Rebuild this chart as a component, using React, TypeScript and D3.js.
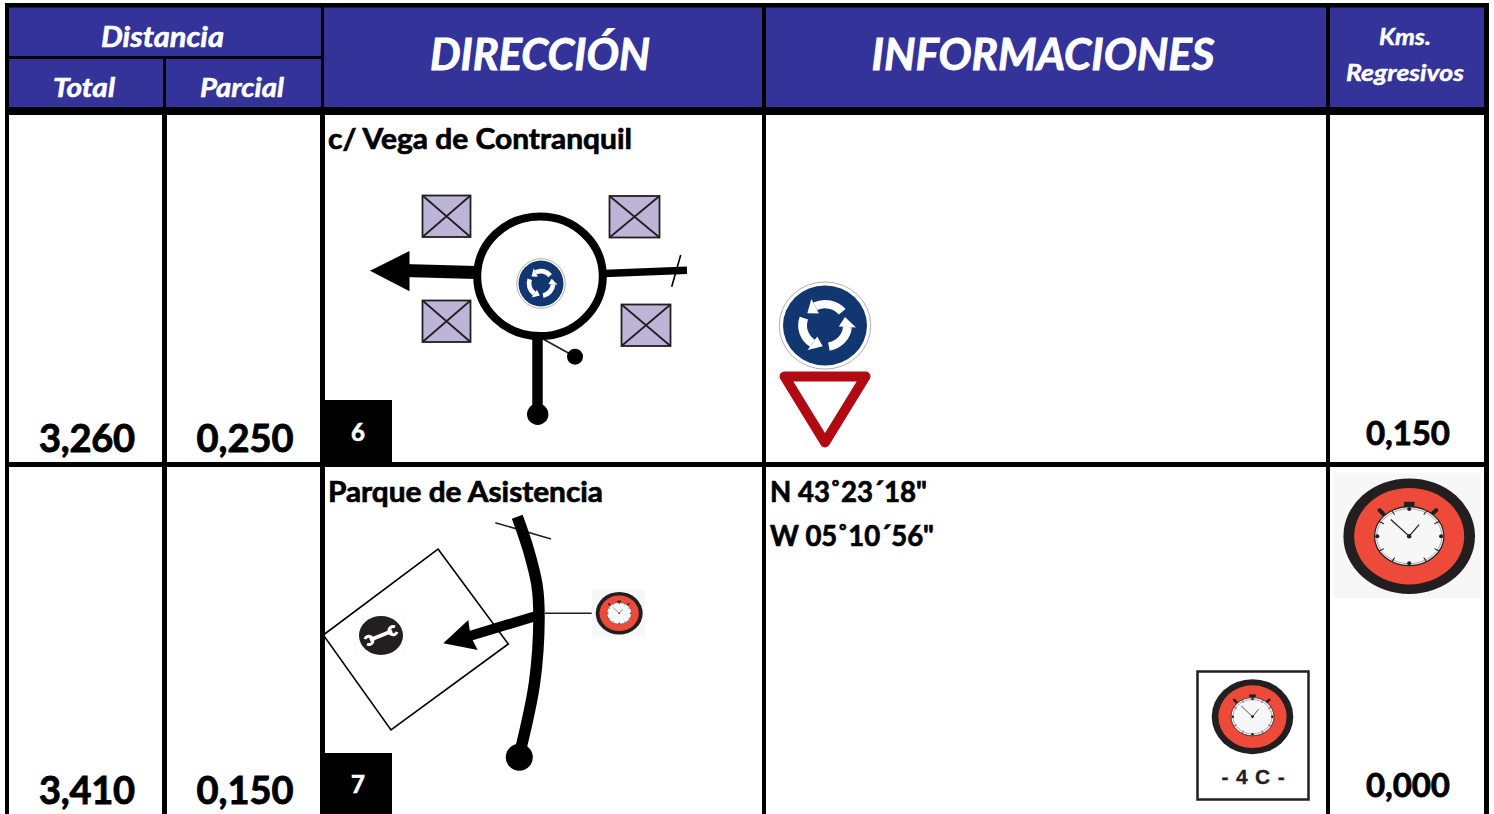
import * as d3 from 'd3';

const totals = ['3,260', '3,410'];
const parciales = ['0,250', '0,150'];
const regresivos = ['0,150', '0,000'];
const titles = ['c/ Vega de Contranquil', 'Parque de Asistencia'];
const titleWidths = [304, 275];
const tags = ['6', '7'];
const infoLines = ['N 43˚23´18"', 'W 05˚10´56"'];
const infoWidths = [157, 164];
const controlLabel = '- 4 C -';

const FONT = 'Lato, Carlito, sans-serif';
const BLUE = '#333399';
const INK = '#231f20';

// cell edges of the sheet
const headCols: [number, number][] = [[9, 163], [166, 321], [324, 762], [766, 1326], [1330, 1484]];
const bodyCols: [number, number][] = [[9, 162], [167, 320], [325, 762], [766, 1326], [1330, 1484]];
const bodyRows: [number, number][] = [[115, 462], [467, 814]];

const numX = d3.scaleOrdinal<string, number>().domain(['total', 'parcial', 'regresivo']).range([87, 245, 1408]);
const numY = d3.scaleOrdinal<number, number>().domain([0, 1]).range([452, 804]);
const regY = d3.scaleOrdinal<number, number>().domain([0, 1]).range([445, 797]);

const toRad = (d: number) => (d * Math.PI) / 180;
const linePath = d3.line<[number, number]>();
const smoothPath = d3.line<[number, number]>().curve(d3.curveCatmullRom.alpha(0.5));

function CrossBox({ x0, y0, x1, y1 }: { x0: number; y0: number; x1: number; y1: number }) {
  const d = `M${x0},${y0}L${x1},${y1}M${x1},${y0}L${x0},${y1}`;
  return (
    <g stroke={INK} strokeWidth={1.8}>
      <rect x={x0} y={y0} width={x1 - x0} height={y1 - y0} fill="#bcb5d8" />
      <path d={d} fill="none" />
    </g>
  );
}

function RoundaboutSign({ cx, cy, rx, ry, ring }: { cx: number; cy: number; rx: number; ry: number; ring: number }) {
  const arc = d3.arc()({ innerRadius: 0.43, outerRadius: 0.64, startAngle: toRad(-26), endAngle: toRad(50) }) as string;
  const polar = (deg: number, r: number) => [Math.sin(toRad(deg)) * r, -Math.cos(toRad(deg)) * r] as [number, number];
  const head = linePath([polar(-26, 0.33), polar(-26, 0.74), polar(-54, 0.52)]) + 'Z';
  return (
    <g transform={`translate(${cx},${cy})`}>
      <ellipse rx={rx * ring} ry={ry * ring} fill="#fff" stroke="#9a9a9a" strokeWidth={0.8} />
      <g transform={`scale(${rx},${ry})`}>
        <ellipse rx={1} ry={1} fill="#12366f" />
        {[0, 120, 240].map((a) => (
          <g key={a} transform={`rotate(${a})`} fill="#fff">
            <path d={arc} />
            <path d={head} />
          </g>
        ))}
      </g>
    </g>
  );
}

function Stopwatch({ cx, cy, rx, ry }: { cx: number; cy: number; rx: number; ry: number }) {
  const small = rx < 30;
  const ticks = d3.range(12);
  const angle = d3.scaleLinear().domain([0, 12]).range([0, 2 * Math.PI]);
  const dialX = rx * 0.527;
  const dialY = ry * 0.51;
  const sw = rx / 65;
  return (
    <g transform={`translate(${cx},${cy})`}>
      <ellipse rx={rx} ry={ry} fill={INK} />
      <ellipse rx={rx * 0.836} ry={ry * 0.836} fill="#ee4a3a" />
      <rect x={-rx * 0.08} y={-ry * 0.595} width={rx * 0.16} height={ry * 0.085} fill={INK} />
      <path
        d={`M${-rx * 0.45},${-ry * 0.45}L${-rx * 0.39},${-ry * 0.38}M${rx * 0.41},${-ry * 0.45}L${rx * 0.34},${-ry * 0.38}`}
        stroke={INK}
        strokeWidth={sw * 4}
        strokeLinecap="round"
      />
      <ellipse rx={dialX} ry={dialY} fill="#f7f7f7" stroke={INK} strokeWidth={sw * 1.2} />
      {!small && <ellipse rx={dialX - 2} ry={dialY - 2} fill="none" stroke="#777" strokeWidth={0.6} />}
      {ticks.map((t) => {
        const a = angle(t);
        const px = Math.sin(a);
        const py = -Math.cos(a);
        return t % 3 === 0 ? (
          <circle key={t} cx={px * dialX * 0.92} cy={py * dialY * 0.92} r={sw * 2} fill={INK} />
        ) : (
          <line
            key={t}
            x1={px * dialX * 0.84}
            y1={py * dialY * 0.84}
            x2={px * dialX}
            y2={py * dialY}
            stroke={INK}
            strokeWidth={sw}
          />
        );
      })}
      <path
        d={linePath([[-rx * 0.28, -ry * 0.29], [0, 0], [rx * 0.15, -ry * 0.2]]) as string}
        fill="none"
        stroke={INK}
        strokeWidth={sw * 1.2}
      />
      <circle r={sw * 2.2} fill={INK} />
    </g>
  );
}

function Wrench({ cx, cy, rx, ry }: { cx: number; cy: number; rx: number; ry: number }) {
  const jaw = d3.arc()({ innerRadius: 2.6, outerRadius: 5.6, startAngle: toRad(130), endAngle: toRad(410) }) as string;
  return (
    <g transform={`translate(${cx},${cy})`}>
      <rect x={-28} y={-21} width={54} height={42} fill="#fdfdfd" />
      <ellipse rx={rx} ry={ry} fill={INK} />
      <g transform="rotate(-22)" fill="#fff">
        <rect x={-12} y={-1.9} width={24} height={3.8} />
        <path d={jaw} transform="translate(13,0)" />
        <path d={jaw} transform="translate(-13,0) rotate(180)" />
      </g>
    </g>
  );
}

function Sketch6() {
  return (
    <g>
      <CrossBox x0={422.5} y0={195.5} x1={470.5} y1={237} />
      <CrossBox x0={609.5} y0={196} x1={659.5} y1={237.5} />
      <CrossBox x0={422.5} y0={300.5} x1={470.5} y1={342} />
      <CrossBox x0={621.5} y0={304.5} x1={670.5} y1={346} />
      <path d={linePath([[404, 270.5], [476, 272.5]]) as string} stroke="#000" strokeWidth={13} />
      <path d={linePath([[370, 270.7], [409.5, 251], [409.5, 291.3]]) + 'Z'} fill="#000" />
      <path d={linePath([[604, 273.5], [687, 270.3]]) as string} stroke="#000" strokeWidth={7.5} />
      <path d={linePath([[680.7, 255], [671.7, 286.7]]) as string} stroke="#000" strokeWidth={1.6} />
      <path d={linePath([[537.5, 338], [537.5, 414]]) as string} stroke="#000" strokeWidth={10.5} />
      <circle cx={537.7} cy={414.3} r={10.7} fill="#000" />
      <path d={linePath([[543, 339], [572, 355]]) as string} stroke={INK} strokeWidth={1.6} />
      <circle cx={575} cy={356.7} r={8} fill="#000" />
      <ellipse cx={540} cy={276.3} rx={62.8} ry={59.8} fill="#fff" stroke="#000" strokeWidth={8} />
      <RoundaboutSign cx={541} cy={283.5} rx={22.5} ry={23} ring={1.08} />
    </g>
  );
}

function Sketch7() {
  return (
    <g>
      <path
        d={linePath([[438, 549], [508.3, 644], [391, 730], [323.3, 635]]) + 'Z'}
        fill="none"
        stroke="#000"
        strokeWidth={1.6}
      />
      <Wrench cx={381} cy={635.5} rx={22} ry={19.5} />
      <path d={linePath([[495.3, 522.7], [551, 539]]) as string} stroke={INK} strokeWidth={1.6} />
      <path
        d={smoothPath([[517.3, 516.7], [528.5, 550], [537, 585], [539, 618], [534.5, 683], [520, 752]]) as string}
        fill="none"
        stroke="#000"
        strokeWidth={11.5}
      />
      <circle cx={519.3} cy={757.3} r={13.5} fill="#000" />
      <path d={linePath([[536, 616], [468, 636.5]]) as string} stroke="#000" strokeWidth={10} />
      <path d={linePath([[443.3, 643.3], [468.3, 620], [470.5, 636], [477.7, 650]]) + 'Z'} fill="#000" />
      <path d={linePath([[545, 613.3], [592, 613.3]]) as string} stroke={INK} strokeWidth={1.5} />
      <rect x={591.7} y={590} width={53.3} height={46.7} fill="#f7f7f7" />
      <Stopwatch cx={619.2} cy={613.3} rx={23.5} ry={21.3} />
    </g>
  );
}

function HeadLabel({ x, y, size, w, children }: { x: number; y: number; size: number; w: number; children: string }) {
  return (
    <text
      x={x}
      y={y}
      textAnchor="middle"
      fontSize={size}
      fontWeight={700}
      fontStyle="italic"
      fill="#fff"
      stroke="#fff"
      strokeWidth={size / 50}
      textLength={w}
      lengthAdjust="spacingAndGlyphs"
      fontFamily={FONT}
    >
      {children}
    </text>
  );
}

export default function App() {
  return (
    <svg width={1494} height={814} style={{ position: 'absolute', left: 0, top: 0 }}>
      <rect width={1494} height={814} fill="#fff" />
      <rect x={5} y={3} width={1484} height={811} fill="#000" />

      {/* header */}
      <rect x={headCols[0][0]} y={7.5} width={headCols[1][1] - headCols[0][0]} height={48.5} fill={BLUE} />
      {headCols.slice(0, 2).map(([a, b]) => (
        <rect key={a} x={a} y={59} width={b - a} height={48} fill={BLUE} />
      ))}
      {headCols.slice(2).map(([a, b]) => (
        <rect key={a} x={a} y={7.5} width={b - a} height={99.5} fill={BLUE} />
      ))}
      <HeadLabel x={162.5} y={47} size={28} w={123}>Distancia</HeadLabel>
      <HeadLabel x={84} y={97} size={27} w={62}>Total</HeadLabel>
      <HeadLabel x={242} y={97} size={27} w={84}>Parcial</HeadLabel>
      <HeadLabel x={540} y={70} size={43} w={220}>DIRECCIÓN</HeadLabel>
      <HeadLabel x={1043} y={70} size={43} w={343}>INFORMACIONES</HeadLabel>
      <HeadLabel x={1405} y={45} size={22} w={52}>Kms.</HeadLabel>
      <HeadLabel x={1405} y={81} size={23} w={118}>Regresivos</HeadLabel>

      {/* body cells */}
      {bodyRows.map(([t, b]) =>
        bodyCols.map(([l, r]) => <rect key={`${t}-${l}`} x={l} y={t} width={r - l} height={b - t} fill="#fff" />)
      )}

      {/* numbers and titles */}
      <g fontFamily={FONT} fontWeight={700} fill="#000" stroke="#000" lengthAdjust="spacingAndGlyphs">
        {totals.map((v, i) => (
          <text key={i} x={numX('total')} y={numY(i)} textAnchor="middle" fontSize={38} strokeWidth={0.9} textLength={96}>{v}</text>
        ))}
        {parciales.map((v, i) => (
          <text key={i} x={numX('parcial')} y={numY(i)} textAnchor="middle" fontSize={38} strokeWidth={0.9} textLength={97}>{v}</text>
        ))}
        {regresivos.map((v, i) => (
          <text key={i} x={numX('regresivo')} y={regY(i)} textAnchor="middle" fontSize={33} strokeWidth={0.8} textLength={84}>{v}</text>
        ))}
        {titles.map((v, i) => (
          <text key={i} x={328} y={[149, 502][i]} fontSize={29} strokeWidth={0.7} textLength={titleWidths[i]} lengthAdjust="spacingAndGlyphs">{v}</text>
        ))}
        {infoLines.map((v, i) => (
          <text key={i} x={770} y={[502, 546][i]} fontSize={29} strokeWidth={0.7} textLength={infoWidths[i]} lengthAdjust="spacingAndGlyphs">{v}</text>
        ))}
      </g>

      {/* step tags */}
      {tags.map((v, i) => (
        <g key={v}>
          <rect x={320} y={[400, 753][i]} width={72} height={[62, 61][i]} fill="#000" />
          <text x={358} y={[441, 793][i]} textAnchor="middle" fontSize={24} fontWeight={700} fill="#fff" stroke="#fff" strokeWidth={0.6} fontFamily={FONT}>
            {v}
          </text>
        </g>
      ))}

      <Sketch6 />
      <Sketch7 />

      {/* right hand signs */}
      <RoundaboutSign cx={825} cy={325.5} rx={42} ry={40} ring={1.09} />
      <path
        d={linePath([[784.5, 376.5], [865.5, 376.5], [825, 442.5]]) + 'Z'}
        fill="#fff"
        stroke="#b20a12"
        strokeWidth={10}
        strokeLinejoin="round"
      />
      <rect x={1333.3} y={473.3} width={147.7} height={125} fill="#f7f7f7" />
      <Stopwatch cx={1409.2} cy={536.2} rx={65.8} ry={57.8} />
      <rect x={1197.5} y={671.5} width={111} height={128} fill="#fff" stroke={INK} strokeWidth={2.5} />
      <Stopwatch cx={1252.5} cy={716.7} rx={40.8} ry={37.5} />
      <text
        x={1253.5}
        y={784}
        textAnchor="middle"
        fontSize={21}
        fontWeight={700}
        letterSpacing={0.8}
        fill={INK}
        stroke={INK}
        strokeWidth={0.3}
        fontFamily="'Liberation Sans', Arial, sans-serif"
      >
        {controlLabel}
      </text>
    </svg>
  );
}
